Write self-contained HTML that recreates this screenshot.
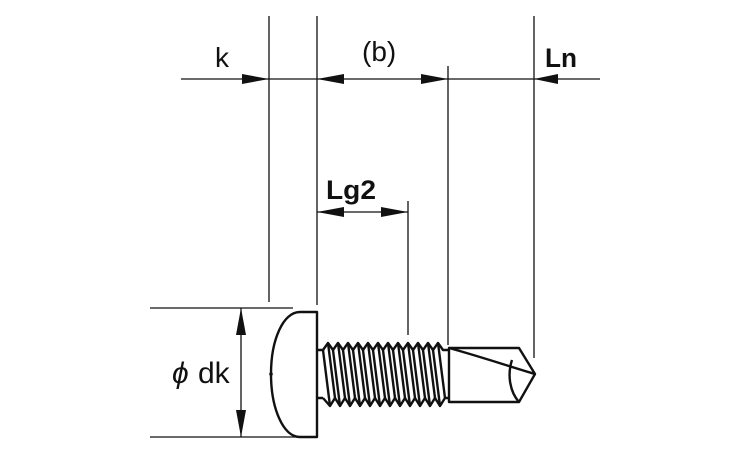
<!DOCTYPE html>
<html><head><style>body{margin:0;background:#fff}svg{display:block}</style></head>
<body>
<svg width="750" height="450" viewBox="0 0 750 450" xmlns="http://www.w3.org/2000/svg">
<g stroke="#111" stroke-width="1.3" fill="none">
<line x1="269" y1="16" x2="269" y2="302"/>
<line x1="317" y1="16" x2="317" y2="305"/>
<line x1="448" y1="66" x2="448" y2="345"/>
<line x1="534" y1="16" x2="534" y2="358"/>
<line x1="408" y1="201" x2="408" y2="335"/>
<line x1="181" y1="79" x2="600" y2="79"/>
<line x1="317" y1="212" x2="408" y2="212"/>
<line x1="150" y1="308" x2="293" y2="308"/>
<line x1="150" y1="437" x2="300" y2="437"/>
<line x1="241" y1="308" x2="241" y2="437"/>
</g>
<g fill="#111">
<polygon points="269,79 242,74 242,84"/>
<polygon points="317,79 344,74 344,84"/>
<polygon points="448,79 421,74 421,84"/>
<polygon points="534,79 558,74 558,84"/>
<polygon points="317,212 344,207 344,217"/>
<polygon points="408,212 381,207 381,217"/>
<polygon points="241,308 236,335 246,335"/>
<polygon points="241,437 236,410 246,410"/>
</g>
<g stroke="#111" stroke-width="2.4" fill="none" stroke-linejoin="round">
<path d="M317,312 L300,312 C283,312 271,340 271,374 C271,408 283,437 300,437 L317,437 Z"/>
<path d="M317,350 L323,350 M317,398 L323,398"/>
<path d="M323,350 L328,343 L333,350 L338,343 L343,350 L348,343 L353,350 L358,343 L363,350 L368,343 L373,350 L378,343 L383,350 L388,343 L393,350 L398,343 L403,350 L408,343 L413,350 L418,343 L423,350 L428,343 L433,350 L438,343 L443,350 L449,350"/>
<path d="M323,398 L330,406 L335,398 L340,406 L345,398 L350,406 L355,398 L360,406 L365,398 L370,406 L375,398 L380,406 L385,398 L390,406 L395,398 L400,406 L405,398 L410,406 L415,398 L420,406 L425,398 L430,406 L435,398 L440,406 L445,398 L449,398"/>
<path d="M323,350 L330,406 M328,343 L335,398 M333,350 L340,406 M338,343 L345,398 M343,350 L350,406 M348,343 L355,398 M353,350 L360,406 M358,343 L365,398 M363,350 L370,406 M368,343 L375,398 M373,350 L380,406 M378,343 L385,398 M383,350 L390,406 M388,343 L395,398 M393,350 L400,406 M398,343 L405,398 M403,350 L410,406 M408,343 L415,398 M413,350 L420,406 M418,343 L425,398 M423,350 L430,406 M428,343 L435,398 M433,350 L440,406 M438,343 L445,398"/>
<path d="M449,348 L449,402 L519,402 L535,374 L519,348 Z"/>
<path d="M449,348 C475,355 505,365 535,374"/>
<path d="M512,360 C507,375 510,392 519,402"/>
</g>
<circle cx="271" cy="374" r="1.8" fill="#111"/>
<g font-family="Liberation Sans, sans-serif" fill="#111">
<text x="215" y="67" font-size="28">k</text>
<text x="362" y="61" font-size="28">(b)</text>
<text x="545" y="67" font-size="27" font-weight="bold" textLength="32" lengthAdjust="spacingAndGlyphs">Ln</text>
<text x="326" y="199" font-size="27" font-weight="bold" textLength="50" lengthAdjust="spacingAndGlyphs">Lg2</text>
<text x="172" y="383" font-size="30" font-style="italic">ϕ</text>
<text x="198" y="383" font-size="30">dk</text>
</g>
</svg>
</body></html>
